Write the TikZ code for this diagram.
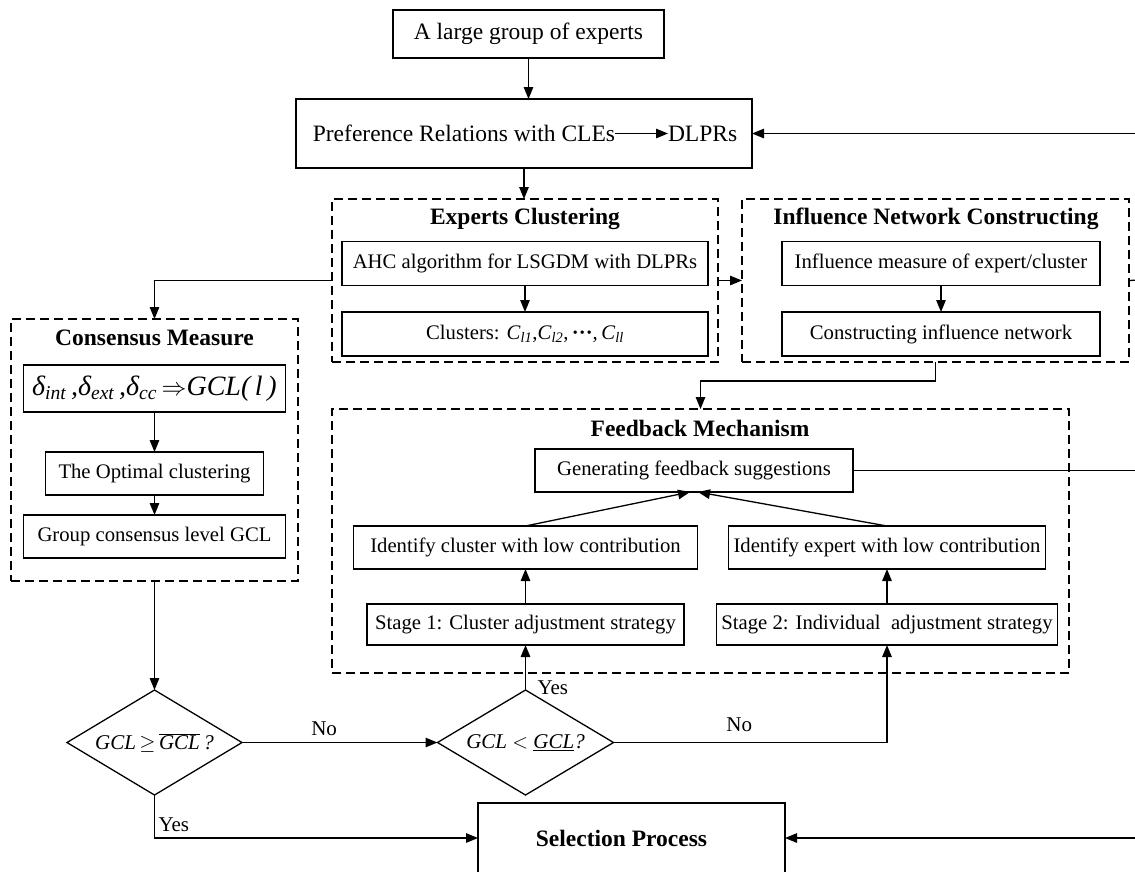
\documentclass[tikz,border=0pt]{standalone}
\usepackage{fontspec}
\setmainfont{Liberation Serif}
\usetikzlibrary{arrows.meta,shapes.geometric,calc}
\begin{document}
\begin{tikzpicture}[x=1pt,y=-1pt,
  every node/.style={inner sep=0pt, outer sep=0pt},
  box/.style={draw, line width=1.3pt, rectangle, align=center},
  dbox/.style={draw, line width=1.3pt, dash pattern=on 9pt off 5pt},
  dia/.style={draw, line width=1.3pt, diamond},
  arr/.style={line width=1.3pt, -{Triangle[length=12pt,width=9.5pt]}},
  ln/.style={line width=1.3pt},
  big/.style={font=\fontsize{23.5}{28}\selectfont},
  mid/.style={font=\fontsize{20.7}{25}\selectfont},
  ttl/.style={font=\fontsize{23.5}{28}\selectfont\bfseries},
  lbl/.style={font=\fontsize{21}{25}\selectfont},
  dtxt/.style={font=\fontsize{21}{25}\selectfont},
]
\clip (0,0) rectangle (1135,871);
% right-edge free ends
\coordinate (rPref) at (1140,133.5);
\coordinate (rInc) at (1140,280);
\coordinate (rGen) at (1140,470.5);
\coordinate (rSel) at (1140,838);

% top
\node[box,big,minimum width=271pt,minimum height=48pt] (top) at (528.5,34) {A large group of experts};
\node[box,minimum width=456pt,minimum height=69pt] (pref) at (524,133.5) {};
\node[big,anchor=east] (prefL) at (615,133.5) {Preference Relations with CLEs};
\node[big,anchor=west] (prefR) at (668,133.5) {DLPRs};

% Experts clustering
\node[dbox,minimum width=386pt,minimum height=163pt] (EC) at (525,280.5) {};
\node[ttl] (ECt) at (525,219) {Experts Clustering};
\node[box,mid,minimum width=366pt,minimum height=44pt] (ahc) at (525,263.5) {AHC algorithm for LSGDM with DLPRs};
\node[box,mid,minimum width=366pt,minimum height=44pt] (clu) at (525,334) {Clusters: \textit{C}\textsubscript{\textit{l1}},\textit{C}\textsubscript{\textit{l2}},\,\textbf{\textperiodcentered\textperiodcentered\textperiodcentered},\,\textit{C}\textsubscript{\textit{ll}}};

% Influence network
\node[dbox,minimum width=387pt,minimum height=163pt] (INC) at (935.5,280.5) {};
\node[ttl] (INCt) at (936,219) {Influence Network Constructing};
\node[box,mid,minimum width=318pt,minimum height=44pt] (im) at (941,263.5) {Influence measure of expert/cluster};
\node[box,mid,minimum width=318pt,minimum height=44pt] (cn) at (941,334) {Constructing influence network};

% Consensus measure
\node[dbox,minimum width=287pt,minimum height=262pt] (CM) at (154.5,450) {};
\node[ttl] (CMt) at (154.5,338) {Consensus Measure};
\node[box,minimum width=262pt,minimum height=47pt,font=\fontsize{28}{32}\selectfont\itshape] (delta) at (154.5,388.5)
  {δ\textsubscript{int}\,,δ\textsubscript{ext}\,,δ\textsubscript{cc}\,$\Rightarrow$GCL(\,l\,)};
\node[box,mid,minimum width=218pt,minimum height=43pt] (opt) at (154.5,473.5) {The Optimal clustering};
\node[box,mid,minimum width=262pt,minimum height=43pt] (grp) at (154.5,536.5) {Group consensus level GCL};

% Feedback mechanism
\node[dbox,minimum width=737pt,minimum height=264pt] (FM) at (700.5,541) {};
\node[ttl] (FMt) at (700,428) {Feedback Mechanism};
\node[box,mid,minimum width=318pt,minimum height=43pt] (gen) at (694,470.5) {Generating feedback suggestions};
\node[box,mid,minimum width=344pt,minimum height=43pt] (idC) at (525.5,547.5) {Identify cluster with low contribution};
\node[box,mid,minimum width=317pt,minimum height=43pt] (idE) at (887,547.5) {Identify expert with low contribution};
\node[box,mid,minimum width=317pt,minimum height=41pt] (st1) at (525.5,624.5) {Stage 1: Cluster adjustment strategy};
\node[box,mid,minimum width=341pt,minimum height=41pt] (st2) at (887,624.5) {Stage 2: Individual\ \ adjustment strategy};

% decisions
\node[dia,dtxt,minimum width=175pt,minimum height=105pt] (d1) at (154.5,742.5)
  {\makebox[0pt]{\itshape GCL$\,\geq\,$$\overline{\hbox{\itshape GCL}}$\,?}};
\node[dia,dtxt,minimum width=176pt,minimum height=105pt] (d2) at (525.5,742.5)
  {\makebox[0pt]{\itshape GCL $<$ \underline{GCL}?}};

% selection
\node[box,minimum width=307pt,minimum height=70pt,font=\fontsize{23.5}{28}\selectfont\bfseries] (sel) at (631.5,838) {Selection Process\hspace{20pt}};

% connectors
\draw[arr] (top.south) -- (top.south |- pref.north);
\draw[arr] (prefL.east) -- (prefR.west);
\draw[arr] (rPref) -- (pref.east);
\draw[arr] (pref.south) -- (pref.south |- EC.north);
\draw[arr] (ahc.south) -- (clu.north);
\draw[arr] (EC.east) -- (INC.west);
\draw[arr] (EC.west) -| (CM.north);
\draw[arr] (im.south) -- (cn.north);
\draw[ln] (INC.east) -- (rInc);
\draw[arr] (INC.south) -- ++(0,19) -| (FM.north);
\draw[arr] (delta.south) -- (opt.north);
\draw[arr] (opt.south) -- (grp.north);
\draw[arr] (CM.south) -- (d1.north);
\draw[arr] (d1.east) -- node[lbl,above=7pt,pos=0.42] (no1) {No} (d2.west);
\draw[arr] (d2.north) -- node[lbl,right=12pt,pos=0.05] (yes1) {Yes} (st1.south);
\draw[arr] (d2.east) -| node[lbl,above=11pt,pos=0.23] (no2) {No} (st2.south);
\draw[arr] (d1.south) |- node[lbl,right=4pt,pos=0.43,anchor=south west] (yes2) {Yes} (sel.west);
\draw[arr] (st1.north) -- (idC.south);
\draw[arr] (st2.north) -- (idE.south);
\draw[arr] (idC.north) -- ([xshift=-4pt]gen.south);
\draw[arr] (idE.north) -- ([xshift=4pt]gen.south);
\draw[ln] (gen.east) -- (rGen);
\draw[arr] (rSel) -- (sel.east);
\end{tikzpicture}
\end{document}
